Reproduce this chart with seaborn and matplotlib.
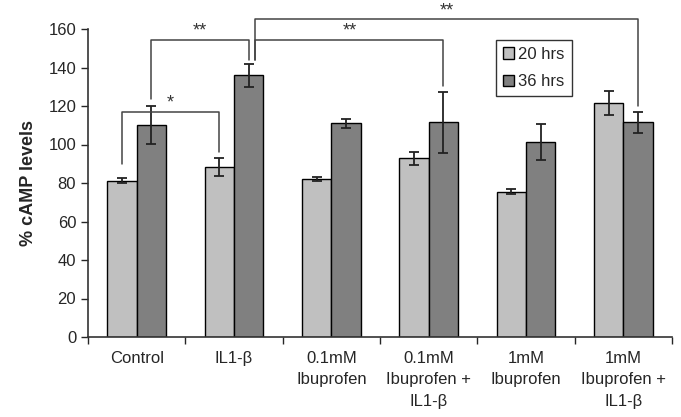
import matplotlib
matplotlib.use("Agg")
import matplotlib.pyplot as plt
import seaborn as sns
import pandas as pd
import numpy as np

categories = ["Control", "IL1-β", "0.1mM\nIbuprofen", "0.1mM\nIbuprofen +\nIL1-β",
              "1mM\nIbuprofen", "1mM\nIbuprofen +\nIL1-β"]
series = ["20 hrs", "36 hrs"]
values_20 = [81.2, 88.5, 81.9, 92.8, 75.5, 121.7]
values_36 = [110.1, 136.0, 111.0, 111.5, 101.3, 111.5]
err_20 = [1.3, 4.7, 1.0, 3.5, 1.3, 6.2]
err_36 = [10.0, 6.0, 2.3, 15.8, 9.4, 5.5]
colors = ["#c0c0c0", "#808080"]

# significance brackets: (x_start, y_start, x_end, y_end, y_top, label)
brackets = [
    (-0.15, 90.0, 0.85, 96.0, 117.0, "*"),
    (0.15, 123.5, 1.15, 144.0, 154.5, "**"),
    (1.22, 144.0, 3.15, 130.5, 154.5, "**"),
    (1.22, 144.0, 5.15, 120.0, 165.0, "**"),
]

sns.set_style("white")
plt.rcParams["font.family"] = ["Liberation Sans", "DejaVu Sans"]

df = pd.DataFrame({
    "cat": categories * 2,
    "series": [series[0]] * 6 + [series[1]] * 6,
    "val": values_20 + values_36,
})

fig = plt.figure(figsize=(6.81, 4.17), dpi=100)
ax = fig.add_axes([88 / 681, 1 - 337 / 417, (672 - 88) / 681, (337 - 29) / 417])
sns.barplot(data=df, x="cat", y="val", hue="series", order=categories,
            hue_order=series, palette=colors, width=0.6, edgecolor="black",
            linewidth=1.0, errorbar=None, ax=ax, saturation=1)

# error bars at patch centres
errs = err_20 + err_36
vals = values_20 + values_36
bars = [p for p in ax.patches if p.get_height() > 0][:12]
for p, v, e in zip(bars, vals, errs):
    cx = p.get_x() + p.get_width() / 2
    ax.errorbar(cx, p.get_height(), yerr=e, color="#222222", capsize=3.6,
                elinewidth=1.3, capthick=1.3)

for x0, y0, x1, y1, yt, lab in brackets:
    ax.plot([x0, x0, x1, x1], [y0, yt, yt, y1], color="#444444", lw=1.1,
            clip_on=False)
    ax.text((x0 + x1) / 2, yt, lab, ha="center", va="bottom",
            fontsize=13, color="#333333", clip_on=False)

ax.set_xlim(-0.5, 5.5)
ax.set_ylim(0, 160)
ax.set_yticks(np.arange(0, 161, 20))
ax.tick_params(axis="y", labelsize=12, length=5, width=1, direction="out", left=True)
ax.set_xticks(np.arange(-0.5, 5.6, 1))
ax.set_xticklabels([])
ax.set_xticks(np.arange(6), minor=True)
ax.set_xticklabels(categories, minor=True, fontsize=12, linespacing=1.55)
ax.tick_params(axis="x", which="major", length=5, width=1, direction="out", bottom=True)
ax.tick_params(axis="x", which="minor", length=0, pad=10)
ax.set_xlabel("")
ax.set_ylabel("% cAMP levels", fontsize=13, fontweight="bold", labelpad=8)
for s in ["top", "right"]:
    ax.spines[s].set_visible(False)
for s in ["left", "bottom"]:
    ax.spines[s].set_color("#333333")
    ax.spines[s].set_linewidth(1.2)

leg = ax.legend(loc="upper left", bbox_to_anchor=((496 - 88) / 584, 1 - (40 - 29) / 308),
                frameon=True, fancybox=False, fontsize=12, handlelength=0.7,
                handleheight=0.7, handletextpad=0.25, borderpad=0.4, labelspacing=0.75,
                borderaxespad=0, edgecolor="black", title=None)
leg.get_frame().set_linewidth(1.0)

fig.savefig("out.png", dpi=100)
